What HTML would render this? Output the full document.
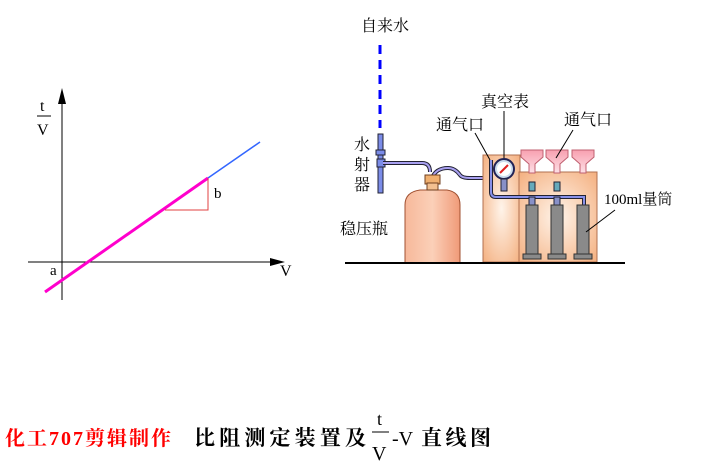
<!DOCTYPE html><html><head><style>body{margin:0;background:#fff}svg{display:block}text{font-family:"Liberation Serif","Noto Serif CJK SC",serif}</style></head><body>
<svg width="718" height="461" xmlns="http://www.w3.org/2000/svg">
<defs><radialGradient id="g1" cx="0.5" cy="0.5" r="0.7"><stop offset="0" stop-color="#fff4ea"/><stop offset="1" stop-color="#f4b080"/></radialGradient>
<linearGradient id="b1" x1="0" x2="1"><stop offset="0" stop-color="#f7b89a"/><stop offset="0.5" stop-color="#fbd0b8"/><stop offset="1" stop-color="#f09a78"/></linearGradient>
<linearGradient id="f1" y1="0" y2="1" x1="0" x2="0"><stop offset="0" stop-color="#f8a0b0"/><stop offset="1" stop-color="#fde0e6"/></linearGradient></defs>
<line x1="62" y1="300" x2="62" y2="95" stroke="#000"/><polygon points="62,88 58,104 66,104" fill="#000"/>
<line x1="28" y1="262" x2="278" y2="262" stroke="#000"/><polygon points="285,262 270,258 270,266" fill="#000"/>
<text x="40" y="111" font-size="16">t</text><line x1="37" y1="116" x2="51" y2="116" stroke="#000"/><text x="37" y="135" font-size="16">V</text>
<line x1="45" y1="292" x2="208" y2="178" stroke="#f0c" stroke-width="3"/>
<line x1="208" y1="178" x2="260" y2="142" stroke="#36f" stroke-width="1.5"/>
<polyline points="165,210 208,210 208,178" fill="none" stroke="#e04040"/>
<text x="214" y="198" font-size="15">b</text><text x="50" y="275" font-size="15">a</text><text x="280" y="276" font-size="16">V</text>
<text x="361" y="31" font-size="16">自来水</text>
<line x1="380" y1="45" x2="380" y2="128" stroke="#00f" stroke-width="3" stroke-dasharray="9,6"/>
<text x="354" y="150" font-size="16">水</text><text x="354" y="170" font-size="16">射</text><text x="354" y="190" font-size="16">器</text>
<rect x="378" y="134" width="5" height="59" fill="#7b8ce8" stroke="#223"/>
<rect x="376" y="150" width="9" height="5" fill="#7b8ce8" stroke="#223"/><rect x="377" y="159" width="8" height="8" fill="#7b8ce8" stroke="#223"/>
<path d="M383 163 H422 Q430 163 430 172" fill="none" stroke="#223" stroke-width="4"/><path d="M383 163 H422 Q430 163 430 172" fill="none" stroke="#a8a0f0" stroke-width="2"/>
<path d="M432 178 Q436 168 448 168 Q455 168 460 175 Q462 178 470 178 H485" fill="none" stroke="#223" stroke-width="4"/><path d="M432 178 Q436 168 448 168 Q455 168 460 175 Q462 178 470 178 H485" fill="none" stroke="#a8a0f0" stroke-width="2"/>
<path d="M405 263 V205 Q405 192 420 190 H447 Q460 192 460 205 V263 Z" fill="url(#b1)" stroke="#a05030"/>
<rect x="425" y="175" width="15" height="9" fill="#f0b070" stroke="#704020"/><rect x="427" y="183" width="11" height="7" fill="#f3c090" stroke="#704020"/>
<text x="340" y="234" font-size="16">稳压瓶</text>
<rect x="483" y="155" width="37" height="107" fill="url(#g1)" stroke="#b07050"/>
<rect x="519" y="172" width="78" height="90" fill="url(#g1)" stroke="#b07050"/>
<path d="M491 160 V192 Q491 197 496 197 H584 V208" fill="none" stroke="#223" stroke-width="4"/><path d="M491 160 V192 Q491 197 496 197 H584 V208" fill="none" stroke="#8890e8" stroke-width="2"/>
<circle cx="504" cy="169" r="10" fill="#cde" stroke="#225" stroke-width="2"/><circle cx="504" cy="169" r="7" fill="#fff"/><line x1="500" y1="173" x2="508" y2="165" stroke="#e02020" stroke-width="2"/>
<rect x="501" y="179" width="6" height="12" fill="#8890c8" stroke="#223"/>
<g fill="url(#f1)" stroke="#c06070"><path d="M521 150 H543 V157 L535 164 V173 H529 V164 L521 157Z"/><path d="M546 150 H568 V157 L560 164 V173 H554 V164 L546 157Z"/><path d="M572 150 H594 V157 L586 164 V173 H580 V164 L572 157Z"/></g>
<g fill="#6ab" stroke="#223"><rect x="529" y="182" width="6" height="9"/><rect x="554" y="182" width="6" height="9"/></g>
<g fill="#8890c8" stroke="#223"><rect x="529" y="197" width="6" height="8"/><rect x="554" y="197" width="6" height="8"/></g>
<g fill="#8a8a8a" stroke="#333"><rect x="526" y="205" width="12" height="52"/><rect x="551" y="205" width="12" height="52"/><rect x="577" y="205" width="12" height="52"/><rect x="523" y="254" width="18" height="5"/><rect x="548" y="254" width="18" height="5"/><rect x="574" y="254" width="18" height="5"/></g>
<line x1="345" y1="263" x2="625" y2="263" stroke="#000" stroke-width="2"/>
<text x="481" y="107" font-size="16">真空表</text><line x1="504" y1="111" x2="504" y2="158" stroke="#000"/>
<text x="436" y="130" font-size="16">通气口</text><line x1="475" y1="133" x2="490" y2="160" stroke="#000"/>
<text x="564" y="125" font-size="16">通气口</text><line x1="573" y1="130" x2="556" y2="158" stroke="#000"/>
<text x="604" y="204" font-size="15">100ml量筒</text><line x1="615" y1="210" x2="586" y2="232" stroke="#000"/>
<text x="5" y="445" font-size="20" font-weight="bold" fill="#f00" font-family="Liberation Sans,Noto Sans CJK SC,sans-serif" textLength="166" lengthAdjust="spacing">化工707剪辑制作</text>
<text x="194" y="445" font-size="21" font-weight="bold" textLength="172" lengthAdjust="spacing">比阻测定装置及</text>
<text x="377" y="425" font-size="18">t</text><line x1="372" y1="432" x2="389" y2="432" stroke="#000"/><text x="372" y="460" font-size="20">V</text>
<text x="392" y="445" font-size="20">-V</text><text x="421" y="445" font-size="21" font-weight="bold" textLength="70" lengthAdjust="spacing">直线图</text>
</svg></body></html>
